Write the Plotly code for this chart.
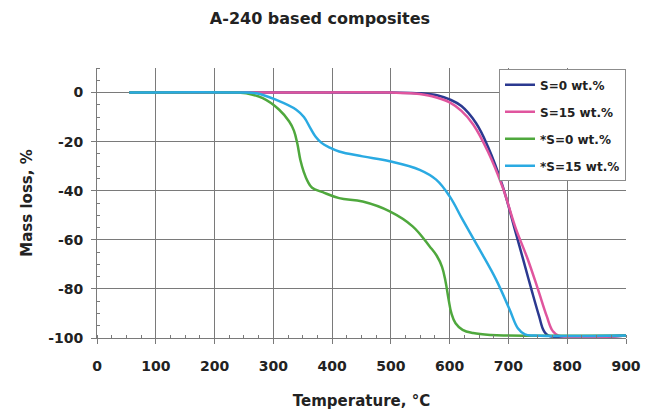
import plotly.graph_objects as go

# Data
t_s0 = [55, 300, 500, 550, 580, 600, 620, 645, 665, 690, 710, 725, 740, 752, 760, 768, 900]
m_s0 = [0, 0, 0, -0.3, -1.2, -2.8, -5.5, -12.5, -22, -38, -55, -68, -81, -91, -97, -99, -99]

t_s15 = [55, 300, 500, 540, 570, 600, 620, 640, 665, 690, 712, 733, 750, 765, 775, 785, 900]
m_s15 = [0, 0, 0, -0.4, -1.5, -4, -7.5, -13, -24, -38.5, -55, -68, -80, -91, -97, -99, -99]

t_as0 = [55, 240, 254, 282, 310, 327, 335, 341, 346, 352, 358, 366, 384, 412, 452, 498, 537, 566,
         578, 587, 593, 598, 603, 610, 622, 640, 670, 700, 900]
m_as0 = [0, 0, -0.3, -2.3, -7, -11.8, -15.5, -21, -27.5, -32.5, -36, -38.8, -40.6, -43, -44.4, -48.4, -54.5, -62.7,
         -66.5, -71, -77, -84, -90, -94, -96.7, -98, -98.8, -99, -99]

t_as15 = [55, 240, 271, 305, 339, 352, 363, 372, 382, 395, 412, 452, 498, 549, 577, 600, 622, 651, 679,
          702, 716, 728, 745, 900]
m_as15 = [0, 0, -0.3, -3, -7, -10, -14.5, -18, -20.5, -22.3, -24, -26, -28, -31.5, -35.5, -42.3, -51.8, -64, -76.2,
          -88.4, -96, -98.5, -99, -99]

names = ["S=0 wt.%", "S=15 wt.%", "*S=0 wt.%", "*S=15 wt.%"]
colors = ["#2b3990", "#e0559e", "#4fa83d", "#2aaae2"]
series = [(t_s0, m_s0), (t_s15, m_s15), (t_as0, m_as0), (t_as15, m_as15)]

x_ticks = [0, 100, 200, 300, 400, 500, 600, 700, 800, 900]
y_ticks = [0, -20, -40, -60, -80, -100]

fig = go.Figure()
for i, ((tx, my), nm, col) in enumerate(zip(series, names, colors)):
    fig.add_trace(go.Scatter(
        x=tx, y=my, name=nm, mode="lines", legendgroup=str(i),
        line=dict(color=col, width=2.5, shape="spline", smoothing=1.1),
    ))

font_family = "DejaVu Sans, Liberation Sans, Arial, sans-serif"
grid_col = "#7a7a7a"
txt_col = "#222222"

fig.update_layout(
    width=650, height=415,
    margin=dict(l=89, r=32, t=60, b=85),
    paper_bgcolor="white", plot_bgcolor="white",
    font=dict(family=font_family, size=14, color=txt_col),
    title=dict(text="<b>A-240 based composites</b>", x=0.48, xref="container",
               xanchor="center", y=0.976, yanchor="middle", yref="container",
               font=dict(size=16, color=txt_col)),
    showlegend=True,
    legend=dict(x=1.0, y=0.995, xanchor="right", yanchor="top", xref="paper", yref="paper",
                bgcolor="white", bordercolor="#8c8c8c", borderwidth=1,
                font=dict(size=12, color=txt_col, weight="bold"),
                traceorder="grouped", tracegroupgap=8, itemwidth=30),
)

fig.update_xaxes(
    range=[0, 900], tickvals=x_ticks, ticktext=[str(v) for v in x_ticks],
    showgrid=True, gridcolor=grid_col, gridwidth=1,
    showline=True, linecolor=grid_col, linewidth=1,
    ticks="outside", ticklen=5, tickcolor=grid_col, ticklabelstandoff=10,
    minor=dict(dtick=25, ticks="inside", ticklen=3, tickcolor=grid_col, showgrid=False),
    zeroline=False,
    tickfont=dict(size=14, weight="bold"),
    title=dict(text="<b>Temperature, °C</b>", font=dict(size=15), standoff=22),
)
fig.update_yaxes(
    range=[-100, 10], tickvals=y_ticks, ticktext=[str(v) for v in y_ticks],
    showgrid=True, gridcolor=grid_col, gridwidth=1,
    showline=True, linecolor=grid_col, linewidth=1,
    ticks="outside", ticklen=5, tickcolor=grid_col, ticklabelstandoff=5,
    minor=dict(dtick=5, ticks="inside", ticklen=3, tickcolor=grid_col, showgrid=False),
    zeroline=False,
    tickfont=dict(size=14, weight="bold"),
    title=dict(text="<b>Mass loss, %</b>", font=dict(size=15), standoff=11),
)

fig.write_html("out.html")
